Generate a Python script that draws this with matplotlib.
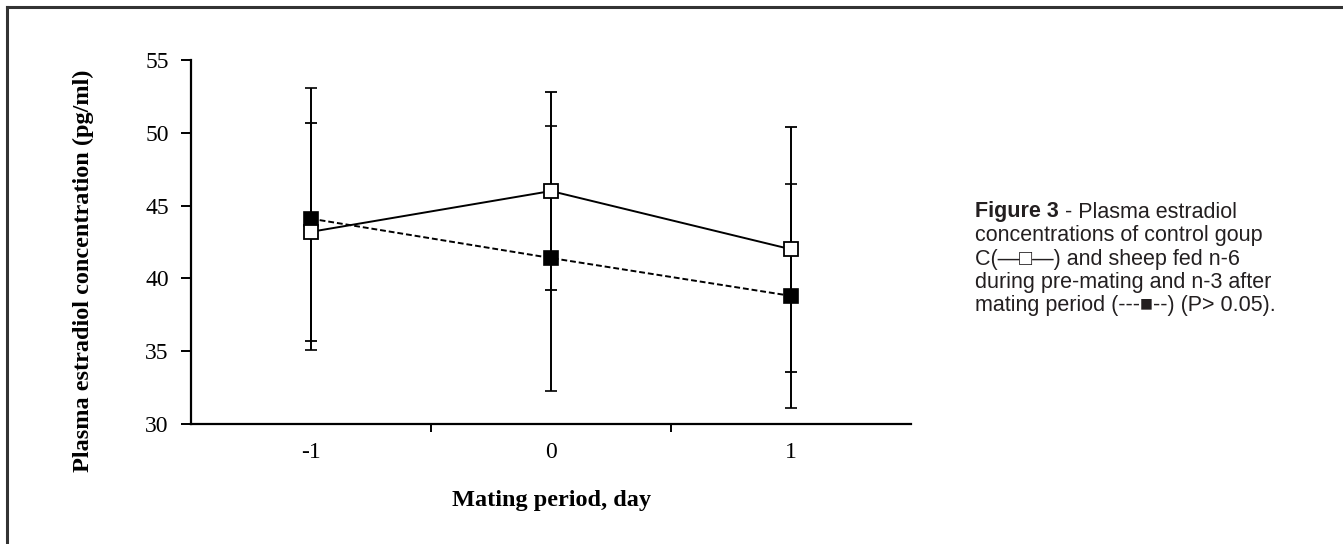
import matplotlib
matplotlib.use('Agg')
import matplotlib.pyplot as plt
from matplotlib.lines import Line2D

# data
days = [-1, 0, 1]
day_labels = ['-1', '0', '1']
control = [43.2, 46.0, 42.0]
control_err = [7.5, 6.8, 8.4]
treated = [44.1, 41.4, 38.8]
treated_err = [9.0, 9.1, 7.7]

fig = plt.figure(figsize=(13.43, 5.44), dpi=100)
ax = fig.add_axes([191/1343, 120/544, 720/1343, 364/544])

serif = ['Liberation Serif', 'DejaVu Serif']

ax.errorbar(days, treated, yerr=treated_err, color='black', ls='--', lw=1.4,
            marker='s', ms=9.5, mfc='black', mec='black', mew=1.2,
            ecolor='black', elinewidth=1.4, capsize=4.3, capthick=1.4,
            dashes=(3, 1.5), zorder=3)
ax.errorbar(days, control, yerr=control_err, color='black', ls='-', lw=1.4,
            marker='s', ms=9.5, mfc='white', mec='black', mew=1.3,
            ecolor='black', elinewidth=1.4, capsize=4.3, capthick=1.4, zorder=4)

ax.set_xlim(-1.5, 1.5)
ax.set_ylim(30, 55)
ax.set_yticks([30, 35, 40, 45, 50, 55])
ax.set_xticks(days)
ax.set_xticklabels(day_labels)
ax.set_xticks([-0.5, 0.5], minor=True)
ax.tick_params(axis='x', which='major', length=0, pad=13)
ax.tick_params(axis='x', which='minor', length=6, width=1.4, direction='out')
ax.tick_params(axis='y', length=7, width=1.4, direction='out', pad=9)
for lab in ax.get_xticklabels() + ax.get_yticklabels():
    lab.set_fontfamily(serif)
    lab.set_fontsize(17)
ax.spines['top'].set_visible(False)
ax.spines['right'].set_visible(False)
ax.spines['left'].set_linewidth(1.6)
ax.spines['bottom'].set_linewidth(1.6)

ax.set_ylabel('Plasma estradiol concentration (pg/ml)', family=serif,
              fontsize=17.5, fontweight='bold')
ax.yaxis.set_label_coords(-0.135, 0.42)
ax.set_xlabel('Mating period, day', family=serif, fontsize=17.5,
              fontweight='bold')
ax.xaxis.set_label_coords(0.5, -0.18)

# outer frame (top and left edges)
fig.add_artist(Line2D([7/1343, 1], [1 - 7/544, 1 - 7/544], color='#333333', lw=2.2,
                      transform=fig.transFigure))
fig.add_artist(Line2D([7/1343, 7/1343], [0, 1 - 7/544], color='#333333', lw=2.2,
                      transform=fig.transFigure))

# caption
sans = ['Liberation Sans', 'DejaVu Sans']
cap_color = '#231f20'
x0 = 975/1343
lines = ['concentrations of control goup',
         'C(\u2014\u25a1\u2014) and sheep fed n-6',
         'during pre-mating and n-3 after',
         'mating period (---\u25a0--) (P> 0.05).']
y0 = 1 - 212/544
step = 23.5/544
fs = 15.5
t = fig.text(x0, y0, 'Figure 3', family=sans, fontsize=fs, fontweight='bold',
             color=cap_color, va='center')
fig.canvas.draw()
bb = t.get_window_extent()
fig.text(bb.x1/1343, y0, ' - Plasma estradiol', family=sans, fontsize=fs,
         color=cap_color, va='center')
for i, s in enumerate(lines):
    fig.text(x0, y0 - (i + 1)*step, s, family=sans, fontsize=fs,
             color=cap_color, va='center')

fig.savefig('out.png', dpi=100)
